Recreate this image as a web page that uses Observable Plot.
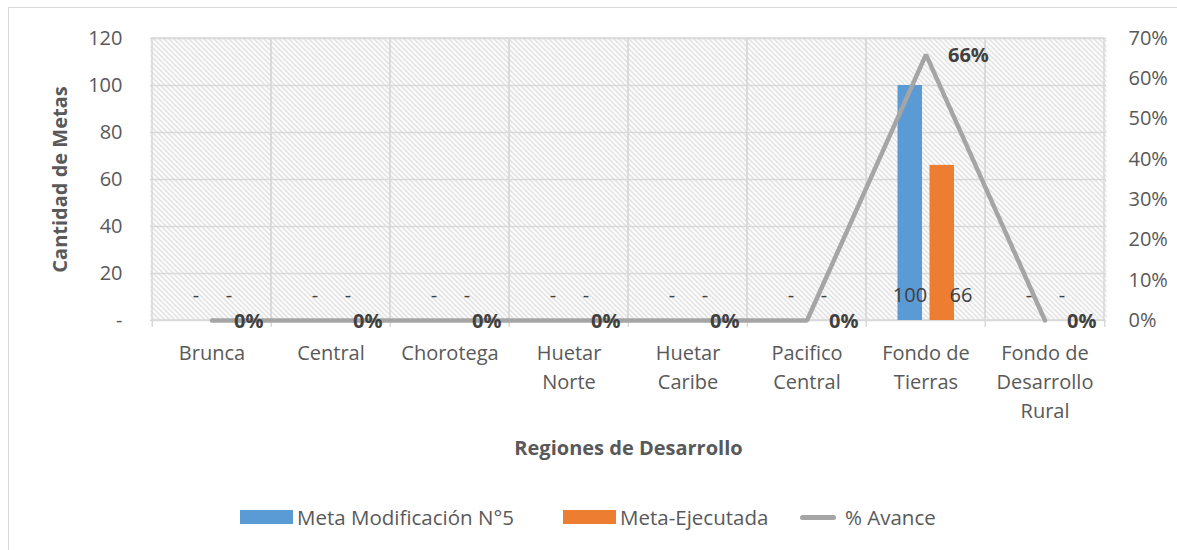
<!DOCTYPE html>
<html><head><meta charset="utf-8">
<script src="https://cdn.jsdelivr.net/npm/d3@7"></script>
<script src="https://cdn.jsdelivr.net/npm/@observablehq/plot@0.6"></script>
<style>
html,body{margin:0;padding:0;background:#fff;overflow:hidden;width:1177px;height:550px;}
#border{position:absolute;left:8px;top:7px;width:1300px;height:700px;border:1.5px solid #d9d9d9;box-sizing:border-box;}
#chart{position:absolute;left:0;top:0;}
#legend{position:absolute;top:503px;left:0;width:1177px;height:28px;font-family:"Open Sans";font-size:20.5px;color:#595959;white-space:nowrap;}
.item{position:absolute;top:0;display:inline-flex;align-items:center;height:28px;}
.sw{display:inline-block;width:53px;height:14px;margin-right:4px;}
.ln{display:inline-block;width:36px;height:5px;border-radius:3px;background:#a5a5a5;margin-right:9px;}
</style></head><body>
<div id="border"></div>
<div id="chart"></div>
<div id="legend"></div>
<script>
const categories = ["Brunca","Central","Chorotega","Huetar Norte","Huetar Caribe","Pacifico Central","Fondo de Tierras","Fondo de Desarrollo Rural"];
const tickLabels = ["Brunca","Central","Chorotega","Huetar\nNorte","Huetar\nCaribe","Pacifico\nCentral","Fondo de\nTierras","Fondo de\nDesarrollo\nRural"];
const metaModificacion = [0,0,0,0,0,0,100,0];
const metaEjecutada = [0,0,0,0,0,0,66,0];
const avance = [0,0,0,0,0,0,0.66,0];
const leftTicks = [0,20,40,60,80,100,120];
const rightTicks = [0,0.1,0.2,0.3,0.4,0.5,0.6,0.7];
const seriesNames = ["Meta Modificación N°5","Meta-Ejecutada","% Avance"];
const colors = ["#5b9bd5","#ed7d31","#a5a5a5"];
const yTitle = "Cantidad de Metas";
const xTitle = "Regiones de Desarrollo";

const yMax = 120, pMax = 0.7;
const toY = p => p * yMax / pMax;
const rows = categories.map((c,i)=>({region:c, meta:metaModificacion[i], ejec:metaEjecutada[i], pct:avance[i]}));
const fmtV = v => v === 0 ? "-" : String(v);
const fmtP = p => Math.round(p*100) + "%";

const W = 1177, H = 470, mL = 150, mR = 71, mT = 38, mB = 150;
const bw = (W - mL - mR) / categories.length;
const lbl = {fill: "#404040", fontSize: 20};

const plot = Plot.plot({
  width: W, height: H,
  marginLeft: mL, marginRight: mR, marginTop: mT, marginBottom: mB,
  style: {fontFamily: "Open Sans", fontSize: "20px", color: "#595959", background: "transparent", overflow: "visible"},
  x: {domain: categories, padding: 0},
  y: {domain: [0, yMax]},
  marks: [
    Plot.frame({fill: "url(#hatch)", stroke: null}),
    Plot.gridY(leftTicks.filter(d=>d>0), {stroke: "#d9d9d9", strokeOpacity: 1, strokeWidth: 1.5}),
    Plot.barY(categories, {x: d=>d, y1: 0, y2: yMax, fill: "none", stroke: "#d9d9d9", strokeWidth: 1.5}),
    Plot.ruleY([0], {stroke: "#d9d9d9", strokeWidth: 1.5}),
    Plot.ruleX(categories, {x: d=>d, y: 0, dx: -bw/2, insetBottom: -7, stroke: "#d9d9d9", strokeWidth: 1.5}),
    Plot.ruleX(categories.slice(-1), {x: d=>d, y: 0, dx: bw/2, insetBottom: -7, stroke: "#d9d9d9", strokeWidth: 1.5}),
    Plot.barY(rows, {x: "region", y: "meta", fill: colors[0], insetLeft: 31.5, insetRight: 63}),
    Plot.barY(rows, {x: "region", y: "ejec", fill: colors[1], insetLeft: 63.5, insetRight: 31}),
    Plot.line(rows, {x: "region", y: d => toY(d.pct), stroke: colors[2], strokeWidth: 4.5, strokeLinejoin: "miter"}),
    Plot.text(rows, {x: "region", y: 0, text: d => fmtV(d.meta), dx: -16, dy: -25, ...lbl}),
    Plot.text(rows.filter(d => d.ejec === 0), {x: "region", y: 0, text: d => fmtV(d.ejec), dx: 17, dy: -25, ...lbl}),
    Plot.text(rows.filter(d => d.ejec !== 0), {x: "region", y: 0, text: d => fmtV(d.ejec), dx: 35, dy: -25, ...lbl}),
    Plot.text(rows, {x: "region", y: d => toY(d.pct), text: d => fmtP(d.pct), dx: 22, dy: 1, textAnchor: "start", fill: "#404040", fontWeight: "bold", fontSize: 20}),
    Plot.axisY(leftTicks, {anchor: "left", tickSize: 0, tickPadding: 28, tickFormat: fmtV, label: null, fontSize: 20}),
    Plot.axisY(rightTicks.map(toY), {anchor: "right", tickSize: 0, tickPadding: 22, tickFormat: d => fmtP(d*pMax/yMax), label: null, fontSize: 20}),
    Plot.axisX({tickSize: 0, tickPadding: 19, tickFormat: d => tickLabels[categories.indexOf(d)], lineHeight: 1.45, label: null, fontSize: 20}),
    Plot.text([yTitle], {frameAnchor: "left", dx: -90, rotate: -90, textAnchor: "middle", fontWeight: "bold", fontSize: 20, fill: "#595959"}),
    Plot.text([xTitle], {frameAnchor: "bottom", dy: 134, fontWeight: "bold", fontSize: 20, fill: "#595959"})
  ]
});

const svg = d3.select(plot);
const pat = svg.insert("defs", ":first-child").append("pattern")
  .attr("id", "hatch").attr("patternUnits", "userSpaceOnUse")
  .attr("width", 5).attr("height", 5);
pat.append("rect").attr("width", 5).attr("height", 5).attr("fill", "#fff");
pat.append("path").attr("d", "M0,0L5,5M-1,4L1,6M4,-1L6,1").attr("stroke", "#d3d3d3").attr("stroke-width", 1.2);
document.getElementById("chart").appendChild(plot);

const legend = document.getElementById("legend");
const lefts = [240, 563, 800];
seriesNames.forEach((n, i) => {
  const item = document.createElement("span");
  item.className = "item";
  item.style.left = lefts[i] + "px";
  const sw = document.createElement("span");
  sw.className = i < 2 ? "sw" : "ln";
  sw.style.background = colors[i];
  item.appendChild(sw);
  item.appendChild(document.createTextNode(n));
  legend.appendChild(item);
});
</script>
</body></html>
